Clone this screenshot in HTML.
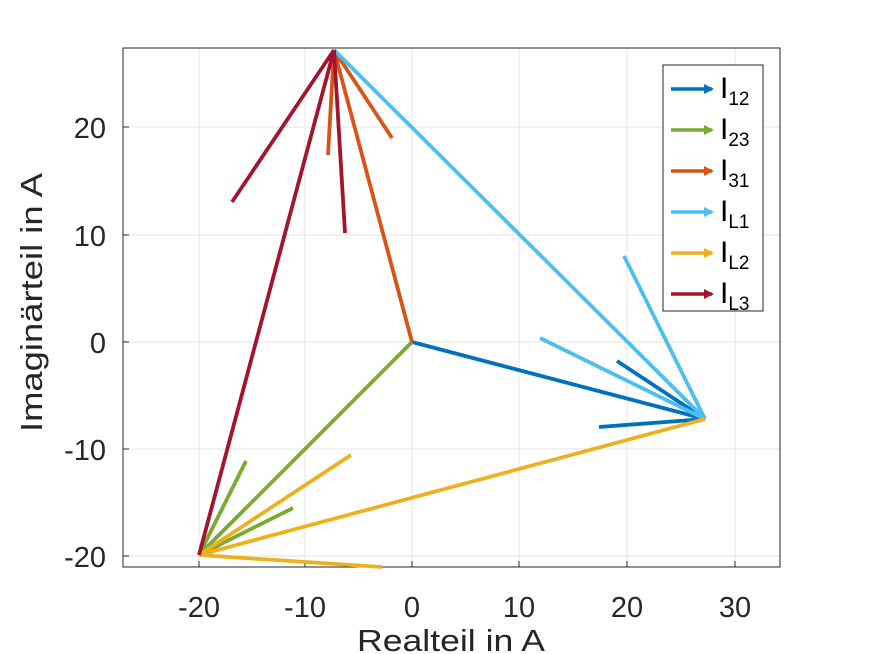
<!DOCTYPE html>
<html><head><style>
body{margin:0;background:#fff;}
svg{display:block;font-family:"Liberation Sans",sans-serif;}
</style></head><body>
<svg width="872" height="654" viewBox="0 0 872 654">
<rect x="0" y="0" width="872" height="654" fill="#fff"/>
<rect x="123" y="48" width="657" height="519" fill="#fff"/>
<g stroke="#e6e6e6" stroke-width="1">
<line x1="199" y1="48" x2="199" y2="567"/><line x1="305" y1="48" x2="305" y2="567"/>
<line x1="412" y1="48" x2="412" y2="567"/><line x1="519" y1="48" x2="519" y2="567"/>
<line x1="627" y1="48" x2="627" y2="567"/><line x1="735" y1="48" x2="735" y2="567"/>
<line x1="123" y1="127" x2="780" y2="127"/><line x1="123" y1="235" x2="780" y2="235"/>
<line x1="123" y1="342" x2="780" y2="342"/><line x1="123" y1="449" x2="780" y2="449"/>
<line x1="123" y1="556" x2="780" y2="556"/>
</g>
<rect x="123" y="48" width="657" height="519" fill="none" stroke="#262626" stroke-width="1"/>
<g stroke="#262626">
<line x1="199" y1="567" x2="199" y2="561"/><line x1="305" y1="567" x2="305" y2="561"/><line x1="412" y1="567" x2="412" y2="561"/><line x1="519" y1="567" x2="519" y2="561"/><line x1="627" y1="567" x2="627" y2="561"/><line x1="735" y1="567" x2="735" y2="561"/>
<line x1="123" y1="127" x2="129" y2="127"/><line x1="123" y1="235" x2="129" y2="235"/><line x1="123" y1="342" x2="129" y2="342"/><line x1="123" y1="449" x2="129" y2="449"/><line x1="123" y1="556" x2="129" y2="556"/>
</g>
<g font-size="29" fill="#262626" text-anchor="middle">
<text x="199" y="617">-20</text><text x="305" y="617">-10</text><text x="412" y="617">0</text><text x="519" y="617">10</text><text x="627" y="617">20</text><text x="735" y="617">30</text>
</g>
<g font-size="29" fill="#262626" text-anchor="end">
<text x="106" y="138">20</text><text x="106" y="246">10</text><text x="106" y="353">0</text><text x="106" y="460">-10</text><text x="106" y="567">-20</text>
</g>
<text x="357" y="651" font-size="31" fill="#262626" textLength="188" lengthAdjust="spacingAndGlyphs">Realteil in A</text>
<text transform="translate(42,432) rotate(-90)" font-size="31" fill="#262626" textLength="259" lengthAdjust="spacingAndGlyphs">Imaginärteil in A</text>
<g stroke-width="3.8" fill="none" stroke-linecap="butt">
<path d="M412,342L705,419M617,361L705,419M599,427L705,419" stroke="#0072BD"/>
<path d="M412,342L199,555M246,461L199,555M293,508L199,555" stroke="#77AC30"/>
<path d="M412,342L334,50M328,155L334,50M392,138L334,50" stroke="#D95319"/>
<path d="M334,50L705,419M624,256L705,419M540,338L705,419" stroke="#4DBEEE"/>
<path d="M705,419L199,555M351,455L199,555M382,567L199,555" stroke="#EDB120"/>
<path d="M199,555L334,50M232,202L334,50M345,233L334,50" stroke="#A2142F"/>
</g>
<rect x="663" y="65" width="100" height="246" fill="#fff" stroke="#262626" stroke-width="1"/>
<g stroke-width="3.5">
<line x1="671" y1="89" x2="712" y2="89" stroke="#0072BD"/>
<line x1="671" y1="130" x2="712" y2="130" stroke="#77AC30"/>
<line x1="671" y1="171" x2="712" y2="171" stroke="#D95319"/>
<line x1="671" y1="212" x2="712" y2="212" stroke="#4DBEEE"/>
<line x1="671" y1="253" x2="712" y2="253" stroke="#EDB120"/>
<line x1="671" y1="294" x2="712" y2="294" stroke="#A2142F"/>
</g>
<g>
<path d="M704,84L714,89L704,94Z" fill="#0072BD"/>
<path d="M704,125L714,130L704,135Z" fill="#77AC30"/>
<path d="M704,166L714,171L704,176Z" fill="#D95319"/>
<path d="M704,207L714,212L704,217Z" fill="#4DBEEE"/>
<path d="M704,248L714,253L704,258Z" fill="#EDB120"/>
<path d="M704,289L714,294L704,299Z" fill="#A2142F"/>
</g>
<g font-size="30" fill="#000">
<text x="720" y="98">I<tspan font-size="19" dy="7">12</tspan></text>
<text x="720" y="139">I<tspan font-size="19" dy="7">23</tspan></text>
<text x="720" y="180">I<tspan font-size="19" dy="7">31</tspan></text>
<text x="720" y="221">I<tspan font-size="19" dy="7">L1</tspan></text>
<text x="720" y="262">I<tspan font-size="19" dy="7">L2</tspan></text>
<text x="720" y="303">I<tspan font-size="19" dy="7">L3</tspan></text>
</g>
</svg>
</body></html>
